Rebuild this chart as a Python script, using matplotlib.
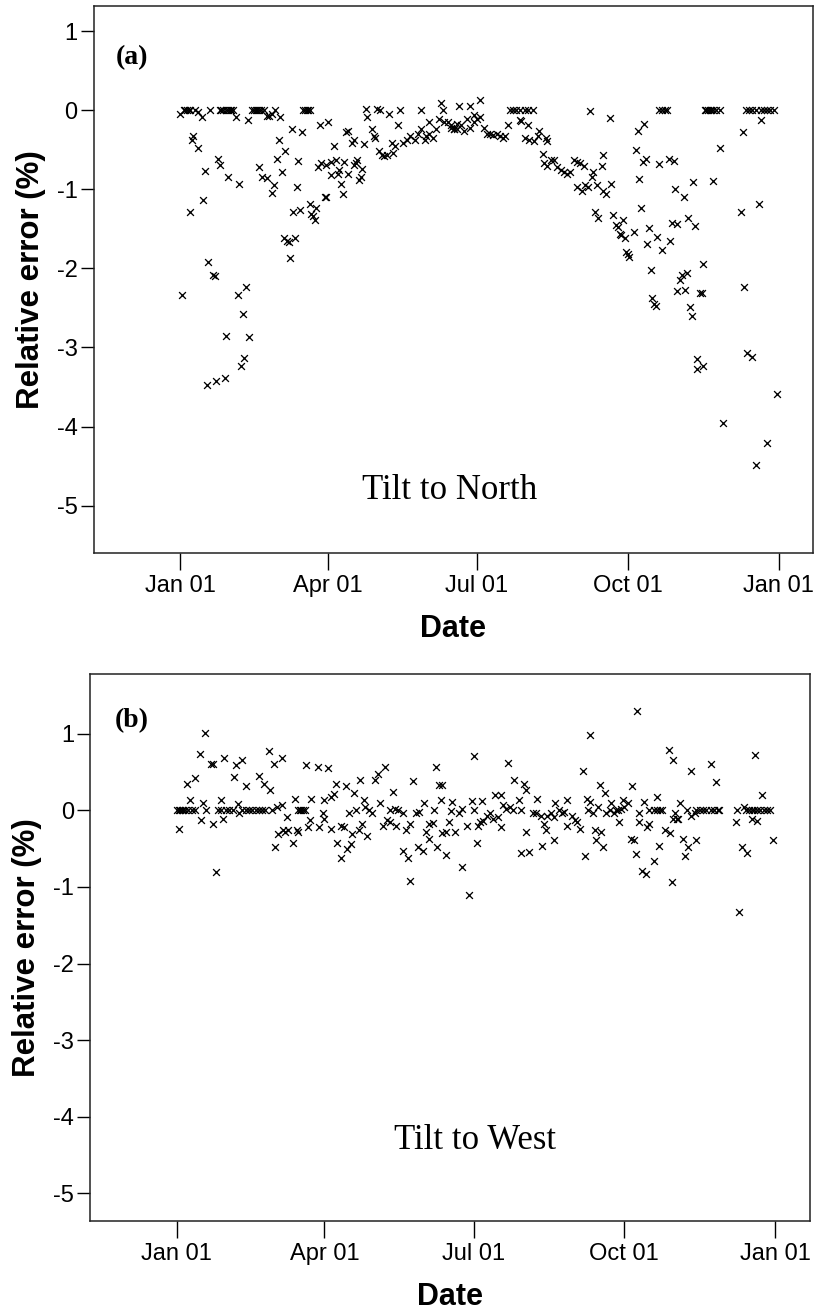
import matplotlib
matplotlib.use("Agg")
import matplotlib.pyplot as plt
import matplotlib.dates as mdates
from datetime import datetime, timedelta

# ---------------- data (day of year, relative error %) ----------------
pts_north = [
    # near-zero row
    (2, 0.0), (3, 0.0), (4, 0.0), (5, 0.0), (6, 0.0), (9, 0.0), (18, 0.0), (24, 0.0), (25, 0.0), (26, 0.0),
    (28, 0.0), (29, 0.0), (30, 0.0), (31, 0.0), (32, 0.0), (44, 0.0), (45, 0.0), (46, 0.0), (47, 0.0), (48, 0.0),
    (49, 0.0), (51, 0.0), (58, 0.0), (75, 0.0), (76, 0.0), (77, 0.0), (78, 0.0), (79, 0.0), (122, 0.0), (134, 0.0),
    (147, 0.0), (160, 0.0), (201, 0.0), (203, 0.0), (205, 0.0), (207, 0.0), (210, 0.0), (212, 0.0), (215, 0.0),
    (292, 0.0), (294, 0.0), (296, 0.0), (297, 0.0), (320, 0.0), (321, 0.0), (322, 0.0), (323, 0.0), (324, 0.0),
    (325, 0.0), (327, 0.0), (329, 0.0), (345, 0.0), (347, 0.0), (349, 0.0), (351, 0.0), (354, 0.0), (356, 0.0),
    (358, 0.0), (360, 0.0), (362, 0.0),
    (0, -0.05), (11, -0.02), (13, -0.08), (34, -0.08), (41, -0.12), (53, -0.07), (54, -0.07), (56, -0.05),
    (61, -0.08), (113, 0.02), (120, 0.02), (127, -0.04), (159, 0.09), (170, 0.06), (177, 0.06), (179, -0.06),
    (183, 0.13), (250, -0.01), (262, -0.10),
    # winter
    (8, -0.32), (7, -0.38), (11, -0.48), (15, -0.77), (23, -0.61), (24, -0.69), (29, -0.84), (36, -0.93),
    (6, -1.28), (14, -1.13), (17, -1.92), (20, -2.08), (21, -2.09), (1, -2.34), (35, -2.34), (40, -2.24),
    (38, -2.58), (28, -2.85), (42, -2.87), (39, -3.13), (37, -3.23), (16, -3.47), (22, -3.43), (27, -3.39),
    # spring
    (48, -0.72), (50, -0.84), (53, -0.85), (57, -0.95), (56, -1.04), (60, -0.37), (59, -0.61), (64, -0.52),
    (62, -0.78), (68, -0.23), (74, -0.27), (71, -0.97), (72, -0.64), (69, -1.29), (73, -1.26), (63, -1.62),
    (65, -1.65), (66, -1.67), (70, -1.61), (67, -1.87), (79, -1.19), (83, -1.23), (80, -1.31), (81, -1.34),
    (82, -1.39), (85, -0.19), (90, -0.15), (88, -1.10), (89, -1.10), (84, -0.72), (86, -0.67), (89, -0.69),
    (92, -0.65), (95, -0.63), (92, -0.82), (96, -0.80), (97, -0.76), (94, -0.45), (98, -0.93), (99, -1.06),
    (102, -0.81), (100, -0.65), (101, -0.28), (102, -0.26), (105, -0.41), (106, -0.37), (107, -0.67),
    (106, -0.69), (108, -0.63), (111, -0.74), (110, -0.84), (109, -0.88), (112, -0.43), (114, -0.09),
    (117, -0.24), (118, -0.32), (119, -0.35), (121, -0.52), (123, -0.56), (124, -0.58), (126, -0.56),
    (129, -0.41), (131, -0.45), (130, -0.54), (133, -0.18), (136, -0.41), (138, -0.37), (140, -0.32),
    (143, -0.37), (145, -0.30), (147, -0.24), (149, -0.37), (150, -0.32), (152, -0.30), (154, -0.35),
    (152, -0.15), (156, -0.24), (158, -0.11), (161, -0.15), (163, -0.15), (165, -0.22), (167, -0.24),
    (169, -0.17),
    # summer
    (165, -0.19), (167, -0.23), (169, -0.24), (171, -0.19), (173, -0.26), (175, -0.11), (177, -0.22),
    (181, -0.11), (183, -0.09), (179, -0.15), (185, -0.22), (187, -0.30), (189, -0.30), (191, -0.31),
    (193, -0.30), (195, -0.32), (197, -0.35), (198, -0.32), (200, -0.19), (207, -0.12), (208, -0.13),
    (212, -0.19), (210, -0.35), (213, -0.38), (216, -0.39), (218, -0.32), (219, -0.26), (223, -0.35),
    (224, -0.39), (221, -0.55), (222, -0.67), (224, -0.71), (226, -0.63), (228, -0.63), (230, -0.72),
    (232, -0.76), (234, -0.78), (236, -0.80), (238, -0.78), (240, -0.63), (242, -0.65), (244, -0.67),
    (246, -0.71), (242, -0.97), (245, -1.02), (247, -0.95), (249, -0.97), (252, -0.78), (254, -0.95),
    (258, -1.02), (260, -1.06), (263, -0.93), (258, -0.56), (257, -0.71), (251, -0.84), (253, -1.28),
    (255, -1.36),
    # autumn
    (264, -1.32), (266, -1.45), (267, -1.47), (270, -1.39), (268, -1.56), (269, -1.58), (271, -1.62),
    (272, -1.79), (273, -1.82), (274, -1.86), (277, -1.54), (279, -0.26), (283, -0.17), (278, -0.50),
    (282, -0.65), (284, -0.61), (280, -0.87), (281, -1.23), (286, -1.49), (285, -1.69), (287, -2.02),
    (288, -2.38), (289, -2.45), (290, -2.47), (291, -1.60), (292, -0.68), (294, -1.77), (298, -0.61),
    (301, -0.64), (299, -1.65), (300, -1.43), (303, -1.44), (302, -1.00), (307, -1.10), (303, -2.29),
    (305, -2.14), (306, -2.08), (308, -2.27), (309, -2.06), (310, -1.36), (314, -1.46), (311, -2.49),
    (312, -2.60), (313, -0.91), (315, -3.14), (315, -3.27), (319, -3.23), (317, -2.31), (318, -2.31),
    (319, -1.94), (325, -0.89), (329, -0.48), (331, -3.96), (342, -1.28), (343, -0.28), (344, -2.24),
    (354, -0.12), (353, -1.19), (346, -3.07), (349, -3.12), (351, -4.49), (358, -4.21), (364, -3.59),
]

pts_west = [
    # near-zero row
    (0, 0.0), (1, 0.0), (2, 0.0), (3, 0.0), (4, 0.0), (5, 0.0), (7, 0.0), (9, 0.0), (11, 0.0), (18, 0.0),
    (25, 0.0), (27, 0.0), (30, 0.0), (32, 0.0), (34, 0.0), (40, 0.0), (42, 0.0), (44, 0.0), (46, 0.0), (48, 0.0),
    (50, 0.0), (52, 0.0), (54, 0.0), (58, 0.0), (74, 0.0), (75, 0.0), (76, 0.0), (77, 0.0), (78, 0.0), (109, 0.0),
    (117, 0.0), (130, 0.0), (135, 0.0), (157, 0.0), (181, 0.0), (205, 0.0), (210, 0.0), (233, 0.0), (251, 0.0),
    (264, 0.0), (269, 0.0), (291, 0.0), (293, 0.0), (295, 0.0), (296, 0.0), (311, 0.0), (317, 0.0), (319, 0.0),
    (321, 0.0), (323, 0.0), (326, 0.0), (328, 0.0), (330, 0.0), (331, 0.0), (342, 0.0), (347, 0.0), (349, 0.0),
    (351, 0.0), (352, 0.0), (354, 0.0), (356, 0.0), (358, 0.0), (360, 0.0), (362, 0.0),
    # first half
    (1, -0.24), (6, 0.35), (11, 0.42), (8, 0.13), (14, 0.74), (17, 1.01), (16, 0.09), (15, -0.12), (21, 0.60),
    (22, 0.61), (22, -0.18), (24, -0.80), (27, 0.13), (28, -0.11), (29, 0.69), (35, 0.44), (37, 0.08),
    (36, 0.59), (40, 0.66), (38, -0.04), (42, 0.32), (50, 0.45), (53, 0.35), (56, 0.77), (57, 0.26),
    (59, 0.60), (64, 0.69), (60, -0.48), (61, 0.04), (64, 0.07), (67, -0.09), (62, -0.31), (65, -0.26),
    (66, -0.28), (68, -0.26), (71, -0.42), (72, 0.15), (73, -0.26), (74, -0.28), (79, 0.59), (80, -0.22),
    (81, -0.13), (82, 0.15), (86, 0.57), (87, -0.22), (89, -0.04), (90, -0.11), (92, 0.55), (90, 0.13),
    (94, 0.18), (96, 0.22), (97, 0.35), (94, -0.24), (100, -0.20), (102, -0.22), (98, -0.42), (100, -0.62),
    (103, 0.32), (104, -0.50), (106, -0.44), (105, -0.04), (107, -0.31), (108, 0.23), (112, 0.40),
    (113, -0.18), (111, -0.26), (114, 0.13), (116, -0.33), (115, 0.04), (119, -0.04), (121, 0.39),
    (123, 0.48), (127, 0.56), (124, 0.09), (126, -0.20), (128, -0.13), (130, -0.15), (132, 0.24),
    (133, 0.02), (138, -0.04), (134, -0.20), (140, -0.25), (138, -0.53), (141, -0.62), (142, -0.92),
    (142, -0.18), (144, 0.38), (146, -0.04), (148, -0.02), (151, 0.09), (147, -0.48), (150, -0.53),
    (152, -0.28), (154, -0.18), (156, -0.17), (154, -0.37), (158, 0.56), (159, -0.48), (160, 0.33),
    (162, 0.33), (161, 0.14), (162, -0.30), (164, -0.28), (164, -0.58), (166, -0.15), (167, -0.01),
    (168, 0.11),
    # second half
    (170, -0.28), (172, -0.04), (174, -0.74), (174, 0.02), (177, -0.21), (178, -1.10), (180, 0.12),
    (181, 0.71), (183, -0.42), (184, -0.20), (185, -0.15), (187, -0.14), (186, 0.12), (189, -0.07),
    (191, -0.04), (193, -0.11), (196, -0.09), (194, 0.20), (198, 0.20), (198, -0.22), (199, 0.07),
    (201, 0.02), (203, 0.04), (202, 0.62), (206, 0.40), (209, 0.13), (212, 0.34), (213, 0.26), (210, -0.56),
    (215, -0.54), (213, -0.28), (217, -0.04), (219, -0.04), (222, -0.07), (220, 0.15), (223, -0.46),
    (224, -0.18), (225, -0.25), (226, -0.07), (228, -0.04), (230, -0.09), (230, -0.39), (231, 0.10),
    (235, -0.04), (236, -0.02), (238, 0.14), (238, -0.21), (241, -0.07), (243, -0.13), (244, -0.15),
    (246, -0.24), (248, 0.52), (249, -0.60), (250, 0.15), (252, 0.11), (254, -0.04), (252, 0.98),
    (255, -0.26), (259, -0.28), (256, -0.39), (260, -0.48), (258, 0.33), (261, 0.23), (257, 0.05),
    (262, -0.04), (267, -0.04), (268, 0.0), (271, 0.02), (273, 0.04), (265, 0.09), (270, -0.15),
    (272, 0.14), (275, 0.09), (278, 0.32), (277, -0.37), (279, -0.39), (280, -0.57), (281, 1.30),
    (282, -0.04), (282, -0.15), (284, -0.79), (286, -0.83), (285, 0.11), (287, -0.22), (288, -0.18),
    (288, 0.01), (291, -0.66), (293, 0.18), (294, -0.46), (298, -0.25), (301, -0.29), (300, 0.79),
    (303, 0.66), (302, -0.94), (304, -0.04), (303, -0.11), (305, -0.11), (306, -0.11), (307, 0.09),
    (309, -0.37), (310, -0.59), (312, -0.48), (314, -0.07), (316, -0.04), (314, 0.51), (317, -0.39),
    (326, 0.61), (329, 0.37), (341, -0.15), (343, -1.33), (345, -0.48), (348, -0.56), (346, 0.04),
    (351, -0.11), (354, -0.14), (353, 0.72), (357, 0.20), (364, -0.39),
]

tick_dates = ["2009-01-01", "2009-04-01", "2009-07-01", "2009-10-01", "2010-01-01"]
y_ticks = [1, 0, -1, -2, -3, -4, -5]
panel_labels = ["(a)", "(b)"]
panel_texts = ["Tilt to North", "Tilt to West"]

# ---------------- plotting ----------------
base = datetime(2009, 1, 1)

def to_dates(pts):
    return [base + timedelta(days=d) for d, _ in pts], [v for _, v in pts]

SANS = ["Liberation Sans", "DejaVu Sans"]
SERIF = ["Liberation Serif", "DejaVu Serif"]

fig = plt.figure(figsize=(8.15, 13.13), dpi=100)
ax_a = fig.add_axes([93.5 / 815, 1 - 553 / 1313, 719.5 / 815, 547 / 1313])
ax_b = fig.add_axes([90 / 815, 1 - 1221 / 1313, 719.5 / 815, 547 / 1313])

configs = [
    (ax_a, pts_north, (-5.6, 1.32), (0.495, 0.115), (0.031, 0.905)),
    (ax_b, pts_west, (-5.36, 1.78), (0.535, 0.148), (0.035, 0.914)),
]

for i, (ax, pts, ylim, txt_pos, lab_pos) in enumerate(configs):
    xd, yv = to_dates(pts)
    ax.scatter(xd, yv, marker="x", s=24, c="black", linewidths=0.95, zorder=3)
    ax.set_xlim(base - timedelta(days=53), base + timedelta(days=386))
    ax.set_ylim(*ylim)
    ax.set_xticks([datetime.strptime(t, "%Y-%m-%d") for t in tick_dates])
    ax.xaxis.set_major_formatter(mdates.DateFormatter("%b %d"))
    ax.set_yticks(y_ticks)
    ax.set_yticklabels([str(t) for t in y_ticks])
    ax.tick_params(axis="x", length=12, width=1.0, pad=4, labelsize=17, direction="out")
    ax.tick_params(axis="y", length=9.5, width=1.0, pad=2, labelsize=17, direction="out")
    for lab in ax.get_xticklabels() + ax.get_yticklabels():
        lab.set_family(SANS)
    for sp in ax.spines.values():
        sp.set_linewidth(1.1)
        sp.set_color("#222222")
    ax.set_xlabel("Date", fontsize=22, fontweight="bold", family=SANS, labelpad=12)
    ax.set_ylabel("Relative error (%)", fontsize=22.5, fontweight="bold", family=SANS, labelpad=8)
    ax.text(txt_pos[0], txt_pos[1], panel_texts[i], transform=ax.transAxes, ha="center",
            va="center", fontsize=25, family=SERIF)
    ax.text(lab_pos[0], lab_pos[1], panel_labels[i], transform=ax.transAxes, ha="left",
            va="center", fontsize=20, fontweight="bold", family=SERIF)

fig.savefig("out.png", dpi=100)
